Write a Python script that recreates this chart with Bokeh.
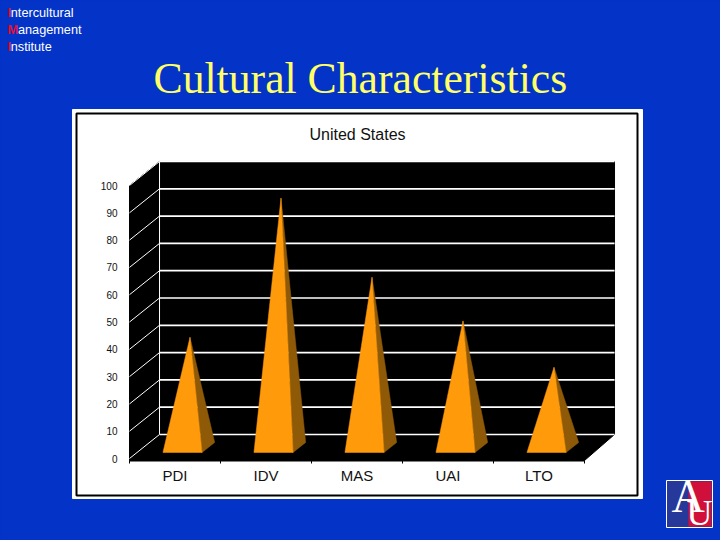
from bokeh.embed import file_html
from bokeh.resources import INLINE
from bokeh.plotting import figure
from bokeh.models import BoxAnnotation, Label, Range1d, FixedTicker

categories = ["PDI", "IDV", "MAS", "UAI", "LTO"]
values = [40, 91, 62, 46, 29]
y_ticks = [0, 10, 20, 30, 40, 50, 60, 70, 80, 90, 100]
chart_title = "United States"
slide_title = "Cultural Characteristics"
org_lines = [("I", "ntercultural"), ("M", "anagement"), ("I", "nstitute")]

BLUE = "#0433c8"
ORANGE = "#ff9a0a"
DARK = "#8f5a08"
DX = 0.33   # depth in category units
DY = 8.8    # depth in value units
W = 0.215   # half width of a pyramid base
FLOOR = -0.73


def dx(px):
    return (px - 129) / 91


def dy(px):
    return (458 - px) / 2.73


p = figure(width=720, height=540, output_backend="svg", toolbar_location=None,
           x_range=Range1d(dx(0), dx(720)), y_range=Range1d(dy(540), dy(0)),
           min_border_left=0, min_border_right=0, min_border_top=0, min_border_bottom=0)
p.border_fill_color = BLUE
p.background_fill_color = BLUE
p.outline_line_color = None
p.grid.visible = False


def box(l, r, t, b, level="underlay", **kw):
    p.add_layout(BoxAnnotation(left=dx(l), right=dx(r), top=dy(t), bottom=dy(b), level=level,
                               line_alpha=1, **kw))


# panel
box(72, 642, 109, 498, fill_color="white", fill_alpha=1, line_color="white")
box(76, 637, 113, 495, fill_alpha=0, line_color="black", line_width=2)

# black walls and floor
top = y_ticks[-1]
p.patch([0, 0, DX, 5 + DX, 5 + DX, 5], [FLOOR, top, top + DY, top + DY, DY, FLOOR],
        fill_color="black", line_color="black")

# grid
p.multi_line([[DX, 5 + DX] for _ in y_ticks], [[v + DY, v + DY] for v in y_ticks],
             line_color="white", line_width=1.7)
p.multi_line([[0, DX] for _ in y_ticks], [[v, v + DY] for v in y_ticks],
             line_color="white", line_width=1)
p.line([DX, DX], [DY, top + DY], line_color="white", line_width=1)

# pyramids
for i, v in enumerate(values):
    c = i + 0.5
    fx = c + 0.25 * DX
    fy = 0.25 * DY
    bx = c + 0.67 * DX
    by = 0.67 * DY
    ax = c + 0.5 * DX
    ay = 0.5 * DY + v
    p.patch([fx + W, bx + W, ax], [fy, by, ay], fill_color=DARK, line_color=DARK, line_width=0.5)
    p.patch([fx - W, fx + W, ax], [fy, fy, ay], fill_color=ORANGE, line_color=ORANGE, line_width=0.5)

# axes
ya = p.yaxis[0]
ya.fixed_location = 0
ya.ticker = FixedTicker(ticks=y_ticks)
ya.axis_line_color = None
ya.major_tick_line_color = None
ya.minor_tick_line_color = None
ya.major_label_standoff = 6
ya.major_label_text_font = "Liberation Sans"
ya.major_label_text_font_size = "10px"
ya.major_label_text_color = "#111111"

xa = p.xaxis[0]
xa.fixed_location = FLOOR
centers = [i + 0.5 for i in range(len(categories))]
xa.ticker = FixedTicker(ticks=centers, minor_ticks=list(range(len(categories) + 1)))
xa.major_label_overrides = {c: n for c, n in zip(centers, categories)}
xa.bounds = (0, 5)
xa.axis_line_color = "black"
xa.axis_line_width = 2
xa.major_tick_line_color = None
xa.minor_tick_line_color = "black"
xa.minor_tick_in = 0
xa.minor_tick_out = 3
xa.major_label_standoff = 1
xa.major_label_text_font = "Liberation Sans"
xa.major_label_text_font_size = "15px"
xa.major_label_text_color = "#111111"


def label(text, x, y, size, color, font="Liberation Sans", **kw):
    p.add_layout(Label(x=dx(x), y=dy(y), text=text,
                       text_font=font, text_font_size=size, text_color=color,
                       text_baseline="middle", **kw))


label(chart_title, 357, 134, "16px", "#111111", text_align="center")
label(slide_title, 153, 77, "43.7px", "#ffff66", font="Liberation Serif")

for (first, rest), y, off in zip(org_lines, [12, 29, 46], [3.3, 10.5, 3.3]):
    label(first, 7, y, "12.7px", "#e0103a", text_font_style="bold")
    label(rest, 7 + off, y, "12.7px", "white")

# logo
box(666, 712, 480, 527, level="overlay", fill_color="#26389a", fill_alpha=1, line_color="white")
box(688, 711, 481, 526, level="overlay", fill_color="#d0103a", fill_alpha=1, line_color=None)
label("A", 671, 496, "46px", "white", font="Liberation Serif", level="overlay")
label("U", 686, 512, "36px", "white", font="Liberation Serif", level="overlay")

html = file_html(p, INLINE)
html = html.replace("<head>", "<head><style>html,body{background:%s;overflow:hidden}</style>" % BLUE, 1)
open("out.html", "w").write(html)
